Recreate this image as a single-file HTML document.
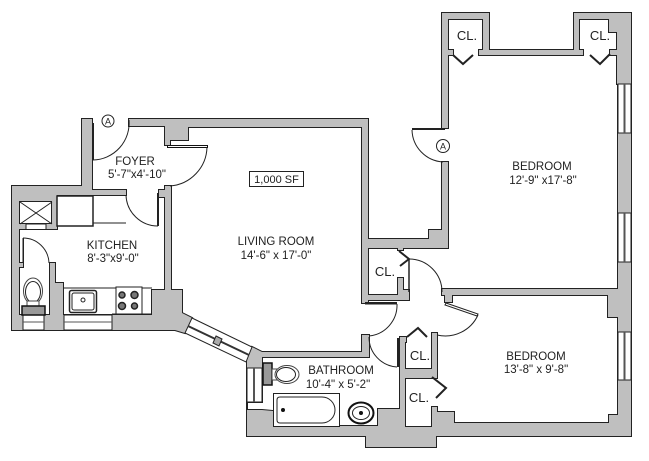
<!DOCTYPE html>
<html><head><meta charset="utf-8">
<style>
html,body{margin:0;padding:0;background:#fff}
svg{display:block}
text{font-family:"Liberation Sans",sans-serif;fill:#222;text-anchor:middle}
.a{fill:none;stroke:#222;stroke-width:1}
.l{fill:none;stroke:#222;stroke-width:2}
.w{fill:#fff;stroke:#222;stroke-width:1}
</style></head>
<body>
<svg width="649" height="461" viewBox="0 0 649 461" xmlns="http://www.w3.org/2000/svg">
<defs>
<g id="walls">
<!-- foyer + kitchen top -->
<path d="M82 119H92V190H126V195H57V229H19V263H23V267H19V330H12V186H82Z"/>
<path d="M129 119H368V303H362V127H188V140H170V145H165V126H129Z"/>
<path d="M165 186H171V290H182V313L192 318L185 333L175 330H112V315H152V290H165V197H159V190H165Z"/>
<path d="M44 330V315H50V263H55V283H63V330Z"/>
<path d="M12 315H112V330H12Z"/>
<!-- closet block -->
<path d="M362 239H429V230H448V248H367V295H398V278H403V290H409V300H362Z"/>
<path d="M398 245H403V250H398Z"/>
<!-- upper bedroom -->
<path d="M442 13H489V50H574V13H631V262H618V84H617V55H610V50H617V32H609V19H579V50H583V55H479V50H483V19H448V50H453V55H448V128H442Z"/>
<path d="M442 162H448V240H442Z"/>
<path d="M618 133H631V213H618Z"/>
<!-- divider and lower bedroom -->
<path d="M442 289H618V262H631V436H436V447H366V436H247V360L252 347L262 352H362V335H369V357H262V402H247V410H262L273 411V426H378V409H400V337H406V342H405V427H432V407H437V412H454V423H609V415H618V332H618V317H608V295H452V302H445V295H442Z"/>
<path d="M432 333H437V378H405V369H432Z"/>
</g>
</defs>
<rect width="649" height="461" fill="#fff"/>
<use href="#walls" fill="#222" stroke="#222" stroke-width="2"/>
<use href="#walls" fill="#bfbfbf"/>

<!-- right side windows -->
<rect class="w" x="618" y="84" width="13" height="49"/>
<line x1="624.5" y1="84" x2="624.5" y2="133" stroke="#555" stroke-width="2"/>
<rect class="w" x="618" y="213" width="13" height="49"/>
<line x1="624.5" y1="213" x2="624.5" y2="262" stroke="#555" stroke-width="2"/>
<rect class="w" x="618" y="332" width="13" height="48"/>
<line x1="624.5" y1="332" x2="624.5" y2="380" stroke="#555" stroke-width="2"/>
<!-- bath left window -->
<rect class="w" x="247" y="368" width="15" height="34"/>
<line x1="254" y1="368" x2="254" y2="402" stroke="#555" stroke-width="2"/>
<!-- kitchen bottom windows -->
<rect class="w" x="23" y="315" width="21" height="15"/>
<line x1="23" y1="322" x2="44" y2="322" stroke="#555"/>
<rect class="w" x="64" y="315" width="48" height="15"/>
<line x1="64" y1="322" x2="112" y2="322" stroke="#555"/>
<!-- diagonal window -->
<polygon class="w" points="192,318 252,347 246,362 185,333"/>
<line x1="188" y1="326" x2="249" y2="355" stroke="#333" stroke-width="2"/>
<polygon points="216,336 222,339 219,346 213,343" fill="#aaa" stroke="#222" stroke-width="1"/>

<!-- kitchen -->
<rect class="w" x="19.500" y="201.500" width="32" height="22"/>
<path class="a" d="M20 202L52 224M52 202L20 224"/>
<rect class="w" x="26" y="224" width="20" height="5.500"/>
<rect x="57" y="196" width="36" height="30" fill="#fff" stroke="#222" stroke-width="1.5"/>
<path class="a" d="M93 196V223H126"/>
<path class="a" d="M63 288H152M112 314H152"/>
<rect x="69.500" y="290.500" width="27" height="22" rx="2" fill="#fff" stroke="#222" stroke-width="1.5"/>
<rect x="72" y="293" width="22" height="17" rx="2" class="a"/>
<circle cx="83" cy="300" r="2" class="a" stroke-width="1.500"/>
<rect x="116" y="287" width="26" height="27" fill="#fff" stroke="#222"/>
<g fill="#777" stroke="#222" stroke-width="1.500">
<circle cx="122" cy="295" r="3"/><circle cx="134.500" cy="295" r="3.500"/>
<circle cx="122" cy="306" r="3.500"/><circle cx="134.500" cy="306" r="3"/>
</g>
<ellipse cx="33" cy="291" rx="9.500" ry="13" fill="#fff" stroke="#444" stroke-width="1"/>
<ellipse cx="33" cy="292" rx="7.500" ry="10.500" class="a" stroke="#444"/>
<rect x="27" y="301" width="12" height="5" fill="#fff" stroke="#444" stroke-width="1"/>
<rect x="22" y="306" width="23" height="9" fill="#999" stroke="#111" stroke-width="1.500"/>
<rect x="22.500" y="238" width="1.500" height="25" fill="#222"/>
<path class="a" d="M23 238A26 26 0 0 1 49 263"/>

<!-- bathroom fixtures -->
<rect x="263" y="363" width="9" height="22" fill="#999" stroke="#111" stroke-width="1.500"/>
<rect x="272" y="369" width="5" height="11" fill="#fff" stroke="#444"/>
<ellipse cx="287" cy="374.500" rx="12" ry="9" fill="#fff" stroke="#444" stroke-width="1"/>
<ellipse cx="286" cy="374.500" rx="9.500" ry="7" class="a" stroke="#444"/>
<rect x="273.500" y="393.500" width="66" height="33" fill="#fff" stroke="#222"/>
<path class="a" d="M280 397H322A13 13 0 0 1 322 423H280Q277 423 277 420V400Q277 397 280 397Z"/>
<circle cx="283" cy="410" r="2" fill="#111"/>
<ellipse cx="361" cy="413" rx="12.500" ry="10.500" fill="#fff" stroke="#111" stroke-width="2"/>
<ellipse cx="361" cy="413" rx="8.500" ry="6.500" class="a"/>
<circle cx="361" cy="413" r="2" fill="#111"/>

<!-- doors -->
<rect x="92" y="123" width="2" height="37" fill="#222"/>
<path class="a" d="M93 160A37 37 0 0 0 129 120"/>
<rect x="167.500" y="145.500" width="40" height="2" fill="#fff" stroke="#111" stroke-width="1"/>
<path class="a" d="M207 147A40 40 0 0 1 170 186"/>
<rect x="157" y="193" width="2" height="33" fill="#222"/>
<path class="a" d="M158 226A32 32 0 0 1 126 195"/>
<rect x="412" y="128" width="33" height="2" fill="#222"/>
<path class="a" d="M412 130A33 33 0 0 0 443 162"/>
<rect x="365" y="302" width="32" height="2.500" fill="#222"/>
<path class="a" d="M397 304A31 31 0 0 1 369 336"/>
<rect x="397" y="338" width="2" height="29" fill="#222"/>
<path class="a" d="M397 367A30 30 0 0 1 369 337"/>
<path class="a" d="M409 259A33 33 0 0 1 442 292"/>
<line x1="409" y1="259" x2="409" y2="292" stroke="#222" stroke-width="1.500"/>
<polygon points="446,303 478,314 477,316 445,305" fill="#fff" stroke="#222" stroke-width="1"/>
<path class="a" d="M478 315A36 36 0 0 1 437 335"/>
<g class="l">
<path class="l" d="M453 55L463 64L473 55"/>
<path class="l" d="M590 55L600 64L610 54"/>
<path class="l" d="M399 251L409 259L400 266"/>
<path class="l" d="M407 337L418 328L427 337"/>
<path class="l" d="M432 377L446 388L436 398"/>
</g>

<!-- A markers -->
<circle cx="108" cy="121" r="6" class="a"/>
<text x="108" y="124.500" font-size="9">A</text>
<circle cx="443" cy="146" r="6.500" class="a"/>
<text x="443" y="149.500" font-size="9">A</text>

<!-- 1,000 SF -->
<rect x="249.500" y="171.500" width="54" height="15" fill="#fff" stroke="#222"/>
<text x="276.500" y="183" font-size="11">1,000 SF</text>

<!-- labels -->
<g font-size="11.500">
<text x="135" y="165">FOYER</text>
<text x="137" y="178">5'-7"x4'-10"</text>
<text x="112" y="249">KITCHEN</text>
<text x="113" y="262">8'-3"x9'-0"</text>
<text x="276" y="245">LIVING ROOM</text>
<text x="276" y="259">14'-6" x 17'-0"</text>
<text x="341" y="374">BATHROOM</text>
<text x="338" y="388">10'-4" x 5'-2"</text>
<text x="542" y="170">BEDROOM</text>
<text x="543" y="184">12'-9" x17'-8"</text>
<text x="536" y="360">BEDROOM</text>
<text x="536" y="373">13'-8" x 9'-8"</text>
</g>
<g font-size="13">
<text x="467" y="40">CL.</text>
<text x="600" y="40">CL.</text>
<text x="385" y="276">CL.</text>
<text x="420" y="360">CL.</text>
<text x="419" y="402">CL.</text>
</g>
</svg>
</body></html>
